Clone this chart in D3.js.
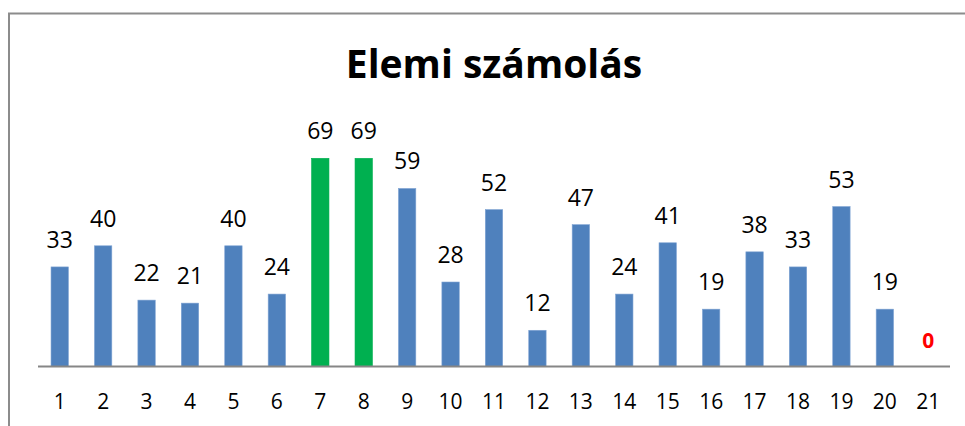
<!DOCTYPE html>
<html><head><meta charset="utf-8">
<script src="https://cdn.jsdelivr.net/npm/d3@7"></script>
<style>body{margin:0;background:#fff}svg{display:block}</style>
</head><body>
<script>
const title = "Elemi számolás";
const categories = ["1","2","3","4","5","6","7","8","9","10","11","12","13","14","15","16","17","18","19","20","21"];
const values = [33,40,22,21,40,24,69,69,59,28,52,12,47,24,41,19,38,33,53,19,0];
const highlighted = ["7","8"];

const W = 965, H = 426;
const svg = d3.select("body").append("svg").attr("width", W).attr("height", H);
const font = "'Open Sans', 'Liberation Sans', sans-serif";

// frame
svg.append("path").attr("d", "M9,426 V13.5 H965")
  .attr("fill", "none").attr("stroke", "#8c8c8c").attr("stroke-width", 2);

const x = d3.scaleBand().domain(categories).range([38, 950]).paddingInner(0.6).paddingOuter(0.3);
const y = d3.scaleLinear().domain([0, 80]).range([366.5, 125.1]);

svg.append("text").attr("x", 494).attr("y", 77.5).attr("text-anchor", "middle")
  .attr("font-family", font).attr("font-weight", "bold").attr("font-size", 39)
  .attr("fill", "#000").text(title);

const data = categories.map((c, i) => ({c, v: values[i]}));

svg.selectAll("rect.bar").data(data).join("rect").attr("class", "bar")
  .attr("x", d => x(d.c)).attr("width", x.bandwidth())
  .attr("y", d => y(d.v)).attr("height", d => y(0) - y(d.v))
  .attr("fill", d => highlighted.includes(d.c) ? "#00B050" : "#4F81BD")
  .attr("stroke", d => highlighted.includes(d.c) ? "#00B050" : "#7FA3D3")
  .attr("stroke-width", 0.6);

svg.selectAll("text.val").data(data).join("text").attr("class", "val")
  .attr("x", d => x(d.c) + x.bandwidth() / 2).attr("y", d => y(d.v) - 19)
  .attr("text-anchor", "middle").attr("font-family", font)
  .attr("font-size", d => d.v === 0 ? 21 : 23)
  .attr("font-weight", d => d.v === 0 ? "bold" : "normal")
  .attr("fill", d => d.v === 0 ? "#FF0000" : "#000").text(d => d.v);

const axis = d3.axisBottom(x).tickSize(0).tickPadding(0);
const g = svg.append("g").attr("transform", `translate(0,${y(0)})`).call(axis);
g.select(".domain").attr("stroke", "#868686").attr("stroke-width", 2).attr("d", "M38,0 H950");
g.selectAll(".tick text").attr("font-family", font).attr("font-size", 21)
  .attr("fill", "#000").attr("dy", null).attr("y", 42);
</script>
</body></html>
